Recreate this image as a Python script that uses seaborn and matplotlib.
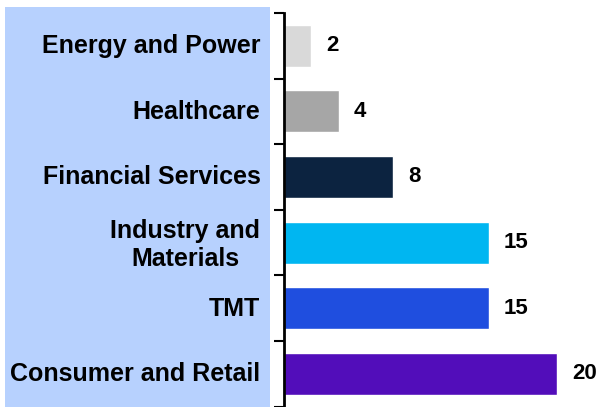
import matplotlib.pyplot as plt
import matplotlib.patches as mpatches
import matplotlib.transforms as mtransforms
import pandas as pd
import seaborn as sns

##############################################
#                 DATA
##############################################
sectors = ["Energy and Power", "Healthcare", "Financial Services",
           "Industry and\nMaterials", "TMT", "Consumer and Retail"]
counts = [2, 4, 8, 15, 15, 20]
barColors = ["#D9D9D9", "#A6A6A6", "#0C2340", "#00B6F1", "#1F4EDF", "#520DBA"]

df = pd.DataFrame({"Sector": sectors, "Count": counts})

##############################################
#                 PLOT
##############################################
sns.set_style("white")
plt.rcParams["font.family"] = ["Liberation Sans", "DejaVu Sans"]
plt.rcParams["text.color"] = "black"
plt.rcParams["ytick.color"] = "black"
plt.rcParams["ytick.labelcolor"] = "black"

fig = plt.figure(figsize=(6, 4.07), dpi=100)
# light blue label panel behind the category names
fig.patches.append(mpatches.Rectangle((5 / 600, 0), 265 / 600, 1 - 7 / 407,
                                      transform=fig.transFigure,
                                      facecolor="#B7D1FE", edgecolor="none",
                                      zorder=-5))
ax = fig.add_axes([284 / 600, 0.5 / 407, 316 / 600, 1 - 13.5 / 407])
ax.patch.set_alpha(0)

sns.barplot(data=df, x="Count", y="Sector", hue="Sector", palette=barColors,
            orient="h", width=0.64, legend=False, ax=ax, saturation=1)

for container in ax.containers:
    ax.bar_label(container, padding=11, fontsize=16, fontweight="bold",
                 color="black")

ax.set_xlim(0, 316 / 13.65)
ax.set_ylim(5.5, -0.5)
ax.set_xlabel("")
ax.set_ylabel("")
ax.set_xticks([])

# category labels at bar centres, ticks at category boundaries
ax.set_yticks(range(len(sectors)))
ax.set_yticklabels(sectors, fontsize=18, fontweight="bold",
                   multialignment="center", color="black",
                   linespacing=1.2)
ax.tick_params(axis="y", which="major", left=True, length=0, pad=17)
shift = mtransforms.ScaledTranslation(0, 2 / 100, fig.dpi_scale_trans)
for lbl in ax.get_yticklabels():
    lbl.set_transform(lbl.get_transform() + shift)
ax.set_yticks([i - 0.5 for i in range(len(sectors) + 1)], minor=True)
ax.tick_params(axis="y", which="minor", left=True, length=7, width=1.5,
               direction="out", color="black")

for side in ["top", "right", "bottom"]:
    ax.spines[side].set_visible(False)
ax.spines["left"].set_linewidth(2)
ax.spines["left"].set_color("black")

plt.savefig("out.png", dpi=100)
plt.close()
